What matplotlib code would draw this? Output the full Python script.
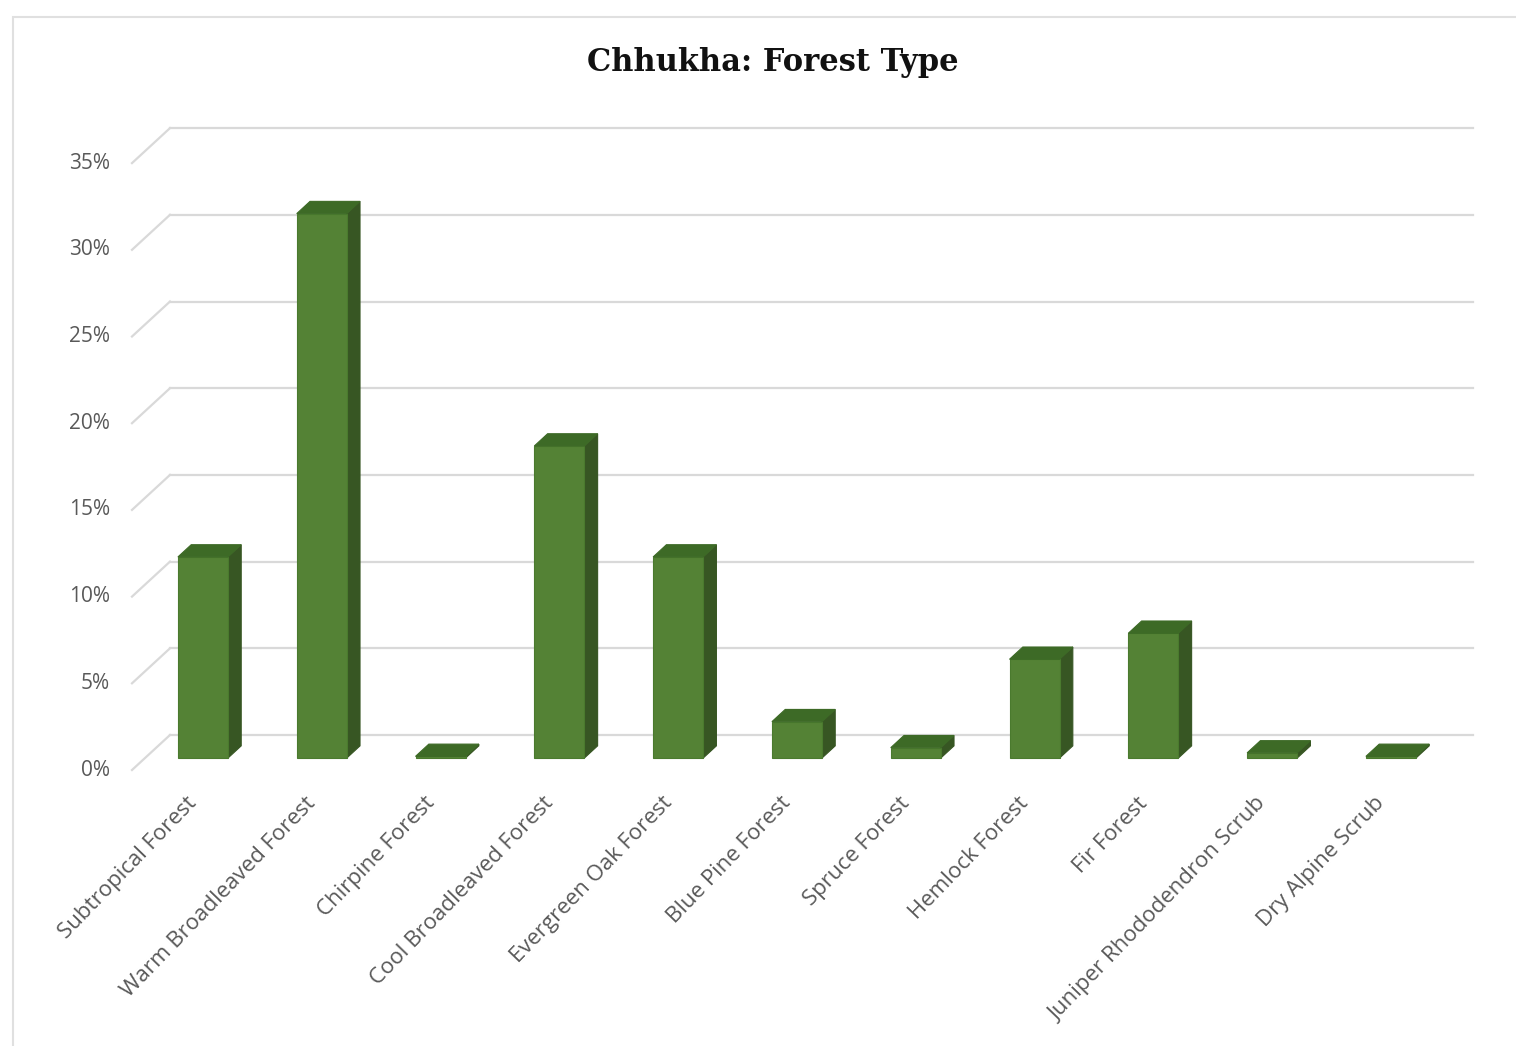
import matplotlib.pyplot as plt
from matplotlib.patches import Polygon, Rectangle

categories = ['Subtropical Forest', 'Warm Broadleaved Forest', 'Chirpine Forest',
              'Cool Broadleaved Forest', 'Evergreen Oak Forest', 'Blue Pine Forest',
              'Spruce Forest', 'Hemlock Forest', 'Fir Forest',
              'Juniper Rhododendron Scrub', 'Dry Alpine Scrub']
values = [11.6, 31.4, 0.1, 18.0, 11.6, 2.1, 0.6, 5.7, 7.2, 0.3, 0.1]
yticks = [0, 5, 10, 15, 20, 25, 30, 35]

W, H = 1516, 1046
fig = plt.figure(figsize=(W / 100, H / 100), dpi=100)
ax = fig.add_axes([0, 0, 1, 1])
# front-plane coords: x = category index, y = percent
x0, sx = 190.0, 118.8
y0, sy = 770.0, 17.34
ax.set_xlim((0 - x0) / sx, (W - x0) / sx)
ax.set_ylim((y0 - H) / sy, y0 / sy)
ax.axis('off')

# depth vector (front wall -> back wall) in data units
ddx, ddy = 38 / sx, 35 / sy
bar_d0, bar_d1 = 0.34, 0.69
bw = 50 / sx

front_c = '#548235'
side_c = '#375623'
top_c = '#3d6a26'
grid_c = '#d9d9d9'
text_c = '#595959'

# gridlines on back wall + diagonals to the labels
xl_back, xr_back = (170 - x0) / sx, (1473 - x0) / sx
xl_front = (132 - x0) / sx
for v in yticks:
    ax.plot([xl_back, xr_back], [v + ddy, v + ddy], color=grid_c, lw=1.6, zorder=1)
    ax.plot([xl_front, xl_back], [v, v + ddy], color=grid_c, lw=1.6, zorder=1)
    ax.text((110 - x0) / sx, v, f'{v}%', ha='right', va='center',
            fontsize=15, color=text_c, family='Open Sans')

# 3d-ish bars
for i, v in enumerate(values):
    xf = i - bw / 2 + bar_d0 * ddx
    yb = bar_d0 * ddy
    ox, oy = (bar_d1 - bar_d0) * ddx, (bar_d1 - bar_d0) * ddy
    front = [(xf, yb), (xf + bw, yb), (xf + bw, yb + v), (xf, yb + v)]
    side = [(xf + bw, yb), (xf + bw + ox, yb + oy), (xf + bw + ox, yb + v + oy), (xf + bw, yb + v)]
    top = [(xf, yb + v), (xf + bw, yb + v), (xf + bw + ox, yb + v + oy), (xf + ox, yb + v + oy)]
    ax.add_patch(Polygon(side, closed=True, fc=side_c, ec=side_c, lw=0.8, zorder=3))
    ax.add_patch(Polygon(front, closed=True, fc=front_c, ec='#4a7a2e', lw=0.8, zorder=4))
    ax.add_patch(Polygon(top, closed=True, fc=top_c, ec=top_c, lw=0.8, zorder=4))

# category labels
for i, name in enumerate(categories):
    ax.text(i + 0.03, (y0 - 800) / sy, name, rotation=46, rotation_mode='anchor',
            ha='right', va='center', fontsize=16, color=text_c, family='Open Sans')

fig.text(773 / W, 1 - 63 / H, 'Chhukha: Forest Type', ha='center', va='center',
         fontsize=22, fontweight='bold', family='DejaVu Serif', color='#111111')

# outer chart frame
fig.patches.append(Rectangle((13 / W, -0.05), 1.2, 1.05 - 17 / H, transform=fig.transFigure,
                             fill=False, ec='#e0e0e0', lw=1.5))

fig.savefig('out.png', dpi=100, facecolor='white')
